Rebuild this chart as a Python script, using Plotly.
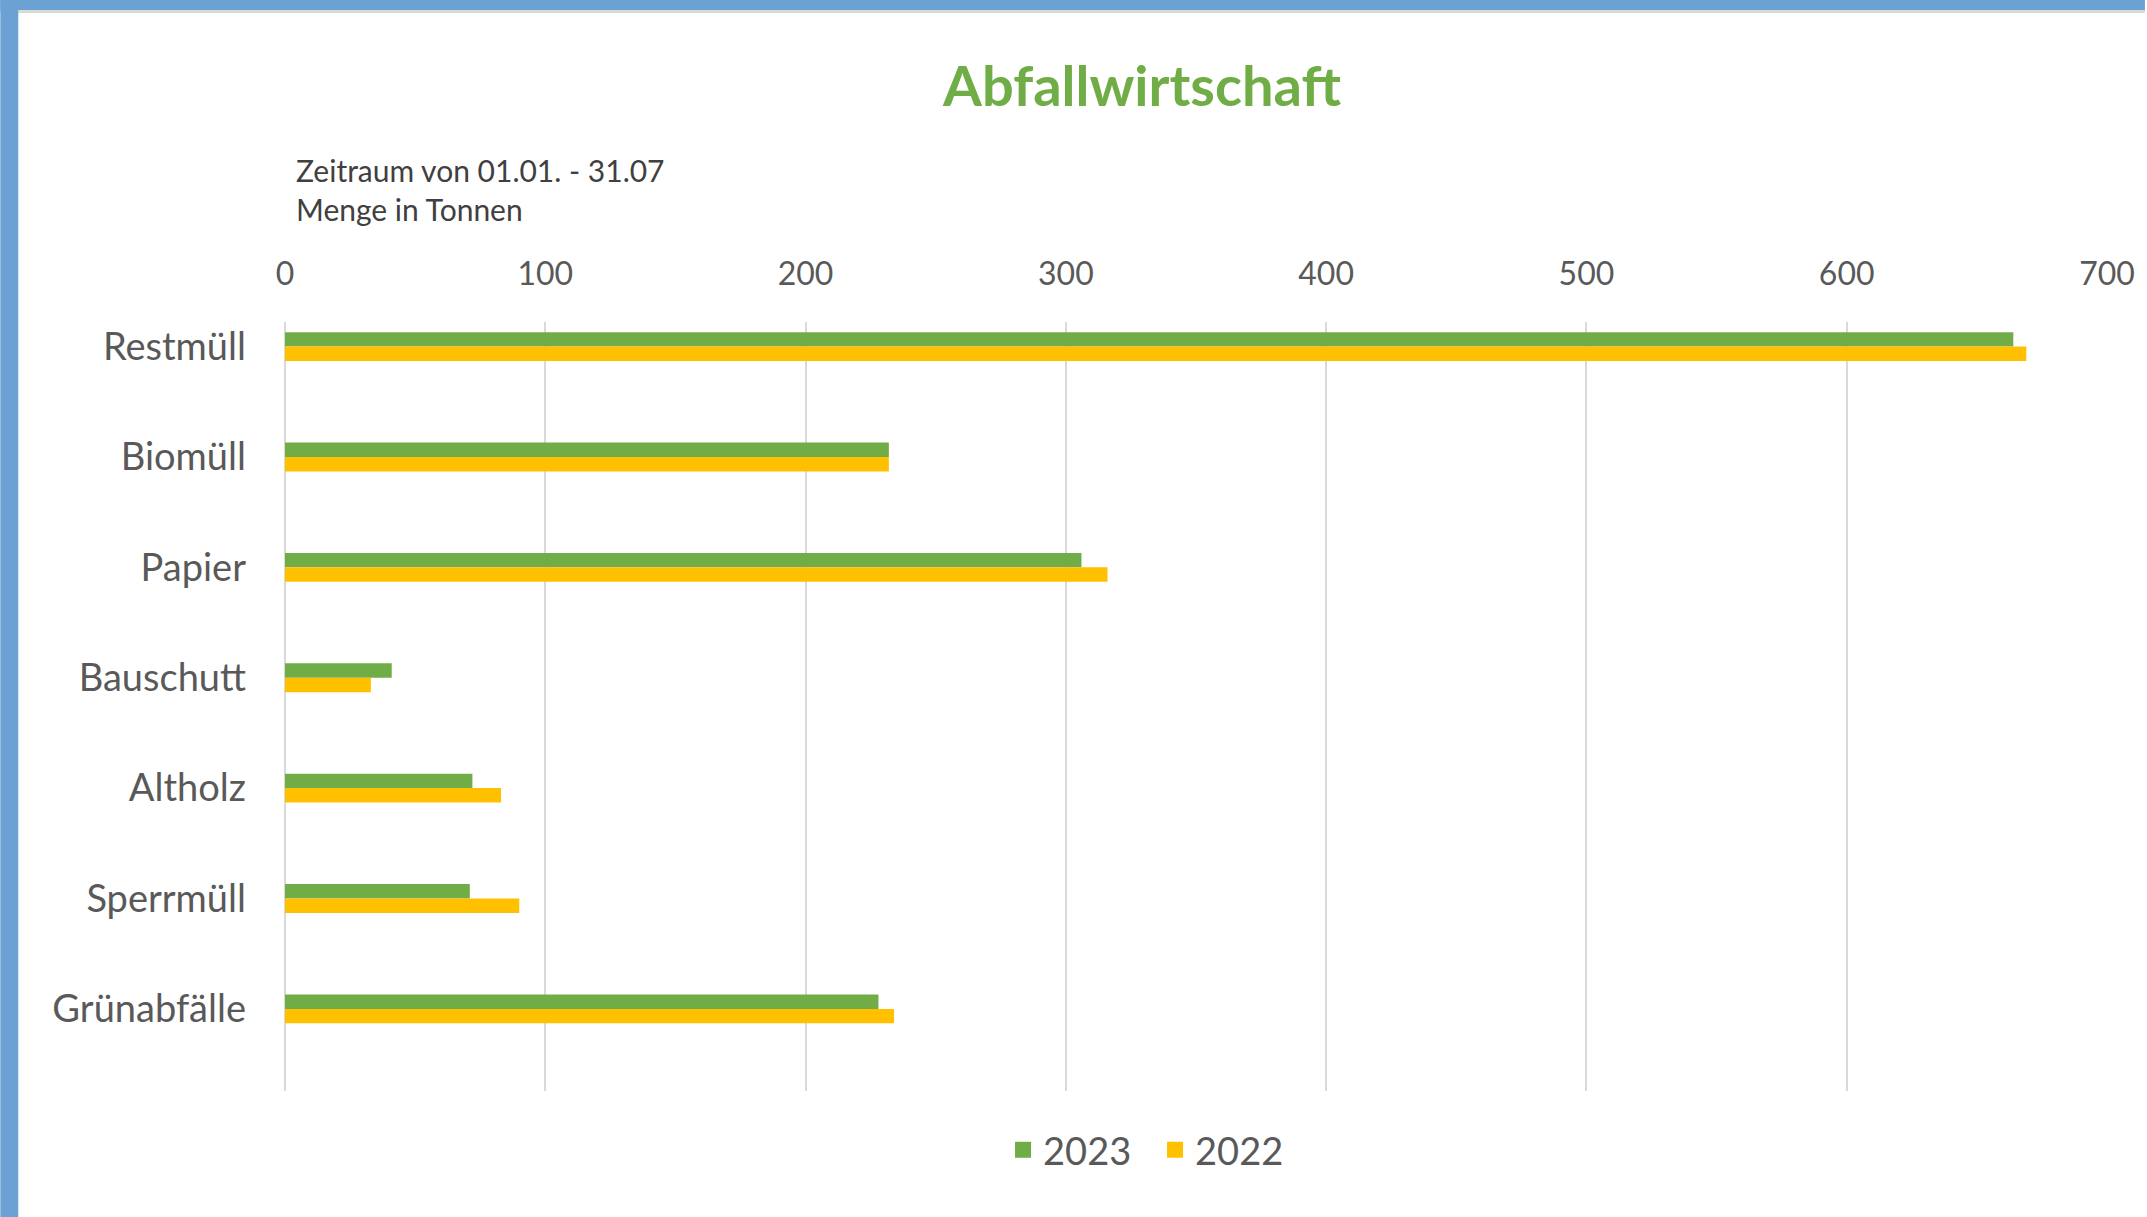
import plotly.graph_objects as go

# ---- data ----
categories = ["Restmüll", "Biomüll", "Papier", "Bauschutt", "Altholz", "Sperrmüll", "Grünabfälle"]
values_2023 = [664, 232, 306, 41, 72, 71, 228]
values_2022 = [669, 232, 316, 33, 83, 90, 234]
series_names = ["2023", "2022"]
x_ticks = [0, 100, 200, 300, 400, 500, 600, 700]
title_text = "Abfallwirtschaft"
subtitle_lines = ["Zeitraum von 01.01. - 31.07", "Menge in Tonnen"]

GREEN = "#70AD47"
YELLOW = "#FFC000"
TEXT = "#595959"
GRID = "#D9D9D9"
FONT = "Lato"

W, H = 2147, 1217
ML, MR, MT, MB = 285, 38, 322, 126
PW = W - ML - MR
PH = H - MT - MB


def px_to_paper_x(px):
    return (px - ML) / PW


def px_to_paper_y(py):
    return (H - MB - py) / PH


fig = go.Figure()
for name, vals, col in [(series_names[0], values_2023, GREEN), (series_names[1], values_2022, YELLOW)]:
    fig.add_trace(go.Bar(
        y=categories, x=vals, name=name, orientation="h",
        marker=dict(color=col, line=dict(width=0)),
        showlegend=False, legendgroup=name,
    ))
# legend entries (square markers)
for name, col in [(series_names[0], GREEN), (series_names[1], YELLOW)]:
    fig.add_trace(go.Scatter(
        x=[None], y=[None], mode="markers", name=name, legendgroup=name,
        marker=dict(symbol="square", size=20, color=col),
        showlegend=True,
    ))

fig.update_layout(
    width=W, height=H,
    margin=dict(l=ML, r=MR, t=MT, b=MB, pad=0),
    paper_bgcolor="white", plot_bgcolor="white",
    barmode="group", bargap=0.738, bargroupgap=0,
    font=dict(family=FONT, color=TEXT),
    title=dict(
        text="<b>" + title_text + "</b>",
        font=dict(family=FONT, size=56, color=GREEN),
        x=px_to_paper_x(1143), xref="paper", xanchor="center",
        y=1 - 86 / H, yref="container", yanchor="middle",
    ),
    xaxis=dict(
        side="top", range=[0, 700], tickvals=x_ticks,
        showgrid=True, gridcolor=GRID, gridwidth=2,
        zeroline=True, zerolinecolor=GRID, zerolinewidth=2,
        showline=False, ticks="",
        tickfont=dict(family=FONT, size=32, color=TEXT),
        ticklabelstandoff=30,
        fixedrange=True,
    ),
    yaxis=dict(
        type="category", categoryorder="array", categoryarray=categories,
        range=[6.744, -0.223],
        showgrid=False, zeroline=False, showline=False, ticks="",
        tickfont=dict(family=FONT, size=38, color=TEXT),
        ticklabelstandoff=38,
        fixedrange=True,
    ),
    legend=dict(
        orientation="h",
        x=px_to_paper_x(1156), xanchor="center",
        y=px_to_paper_y(1150), yanchor="middle",
        font=dict(family=FONT, size=38, color=TEXT),
        itemsizing="trace",
        entrywidth=107, entrywidthmode="pixels",
        bgcolor="rgba(0,0,0,0)",
    ),
)

# subtitle lines
for line, py in zip(subtitle_lines, [170, 209]):
    fig.add_annotation(
        text=line, xref="paper", yref="paper",
        x=px_to_paper_x(294), y=px_to_paper_y(py),
        xanchor="left", yanchor="middle", showarrow=False,
        font=dict(family=FONT, size=30, color="#404040"),
    )

# window frame decoration (blue border, top and left)
fig.add_shape(type="rect", xref="paper", yref="paper",
              x0=px_to_paper_x(0), x1=px_to_paper_x(W), y0=px_to_paper_y(0), y1=px_to_paper_y(10),
              fillcolor="#6CA2D3", line=dict(width=0), layer="below")
fig.add_shape(type="rect", xref="paper", yref="paper",
              x0=px_to_paper_x(0), x1=px_to_paper_x(W), y0=px_to_paper_y(10), y1=px_to_paper_y(13),
              fillcolor="#DADADA", line=dict(width=0), layer="below")
fig.add_shape(type="rect", xref="paper", yref="paper",
              x0=px_to_paper_x(0), x1=px_to_paper_x(18), y0=px_to_paper_y(0), y1=px_to_paper_y(H),
              fillcolor="#6CA2D3", line=dict(width=0), layer="below")

fig.write_html("out.html", config={"displayModeBar": False},
               post_script="document.body.style.margin='0px';")
